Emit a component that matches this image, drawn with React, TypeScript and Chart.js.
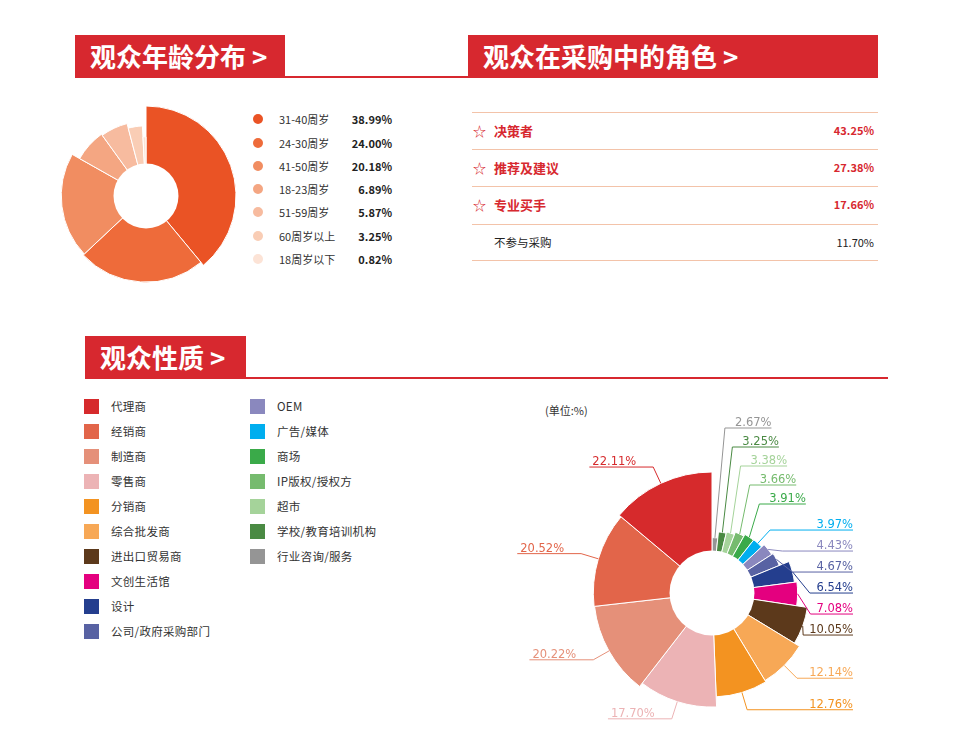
import React, { useEffect, useRef } from "react";
import { Chart, registerables, RadialLinearScale } from "chart.js";

// ---------- data ----------
const ageLabels = ["31-40周岁", "24-30周岁", "41-50周岁", "18-23周岁", "51-59周岁", "60周岁以上", "18周岁以下"];
const ageValues = [38.99, 24.0, 20.18, 6.89, 5.87, 3.25, 0.82];
const ageColors = ["#EA5325", "#EE6B3A", "#F18D61", "#F4A682", "#F7BB9F", "#F9CDB5", "#FCE3D6"];

const roleLabels = ["决策者", "推荐及建议", "专业买手", "不参与采购"];
const roleValues = [43.25, 27.38, 17.66, 11.7];
const roleHighlight = [true, true, true, false];

const typeLabels = [
  "代理商", "经销商", "制造商", "零售商", "分销商", "综合批发商", "进出口贸易商", "文创生活馆", "设计",
  "公司/政府采购部门", "OEM", "广告/媒体", "商场", "IP版权/授权方", "超市", "学校/教育培训机构", "行业咨询/服务",
];
const typeValues = [22.11, 20.52, 20.22, 17.7, 12.76, 12.14, 10.05, 7.08, 6.54, 4.67, 4.43, 3.97, 3.91, 3.66, 3.38, 3.25, 2.67];
const typeColors = [
  "#D62A2C", "#E2654A", "#E59079", "#ECB3B5", "#F39321", "#F7A856", "#5C391B", "#E4007F", "#243E8E",
  "#5862A3", "#8A88BE", "#00AEEF", "#3AAA49", "#76BB6E", "#A5D39A", "#4A8A43", "#959595",
];

const RED = "#D7282F";
const CJK = "'Noto Sans CJK SC', 'Noto Sans', sans-serif";

// ---------- radial scale with logarithmic distance ----------
class RadialLogScale extends (RadialLinearScale as any) {
  static id = "radialLog";
  getDistanceFromCenterForValue(value: number) {
    if (value === null || value === undefined || isNaN(value)) return NaN;
    const lo = Math.log(this.min);
    const hi = Math.log(this.max);
    const v = Math.max(value, this.min);
    return (this.drawingArea * (Math.log(v) - lo)) / (hi - lo);
  }
}
Chart.register(...registerables, RadialLogScale as any);

function holePlugin(ratio: number) {
  return {
    id: "hole",
    afterDatasetsDraw(chart: any) {
      const s = chart.scales.r;
      const ctx = chart.ctx;
      ctx.save();
      ctx.fillStyle = "#fff";
      ctx.beginPath();
      ctx.arc(s.xCenter, s.yCenter, s.drawingArea * ratio, 0, Math.PI * 2);
      ctx.fill();
      ctx.restore();
    },
  };
}

const roseLabelPlugin = {
  id: "roseLabels",
  afterDraw(chart: any) {
    const ctx = chart.ctx;
    const s = chart.scales.r;
    const cx = s.xCenter, cy = s.yCenter, R = s.drawingArea;
    const ds = chart.data.datasets[0];
    const meta = chart.getDatasetMeta(0);
    ctx.save();
    ctx.font = "11.5px 'DejaVu Sans', sans-serif";
    ctx.lineWidth = 1;
    const items = meta.data.map((arc: any, i: number) => {
      const p = arc.getProps(["startAngle", "endAngle", "outerRadius"], true);
      const mid = (p.startAngle + p.endAngle) / 2;
      let deg = (((mid + Math.PI / 2) * 180) / Math.PI) % 360;
      if (deg < 0) deg += 360;
      const at = (rad: number) => ({ x: cx + rad * Math.cos(mid), y: cy + rad * Math.sin(mid) });
      const text = ds.data[i].toFixed(2) + "%";
      return {
        deg,
        P: at(p.outerRadius),
        E: at(p.outerRadius + 18),
        text,
        color: ds.backgroundColor[i],
        w: ctx.measureText(text).width,
      };
    });
    const line = (pts: any[], color: string) => {
      ctx.strokeStyle = color;
      ctx.beginPath();
      pts.forEach((q, k) => (k ? ctx.lineTo(q.x, q.y) : ctx.moveTo(q.x, q.y)));
      ctx.stroke();
    };
    const txt = (t: string, x: number, y: number, align: string, color: string) => {
      ctx.fillStyle = color;
      ctx.textAlign = align;
      ctx.textBaseline = "alphabetic";
      ctx.fillText(t, x, y);
    };
    // top cluster: stacked labels
    const top = items.filter((d: any) => d.deg < 35).sort((a: any, b: any) => a.deg - b.deg);
    top.forEach((d: any, i: number) => {
      const y = cy - R - 44 + i * 19;
      const x0 = d.P.x + 10;
      line([d.P, { x: x0, y }, { x: x0 + 10 + d.w, y }], d.color);
      txt(d.text, x0 + 10, y - 2, "left", d.color);
    });
    // right side: right-aligned column
    const right = items.filter((d: any) => d.deg >= 35 && d.deg < 180).sort((a: any, b: any) => a.deg - b.deg);
    const xEnd = cx + R + 20;
    let prev = -Infinity;
    right.forEach((d: any) => {
      const y = Math.max(d.E.y, prev + 21);
      prev = y;
      const ex = Math.min(d.E.x, xEnd - d.w - 6);
      line([d.P, { x: ex, y }, { x: xEnd, y }], d.color);
      txt(d.text, xEnd, y - 2, "right", d.color);
    });
    // left side
    const left = items.filter((d: any) => d.deg >= 180);
    left.forEach((d: any) => {
      const y = d.E.y;
      line([d.P, d.E, { x: d.E.x - d.w - 20, y }], d.color);
      txt(d.text, d.E.x - d.w - 17, y - 2, "left", d.color);
    });
    ctx.restore();
  },
};

function PolarCanvas(props: {
  labels: string[];
  values: number[];
  colors: string[];
  reverse?: boolean;
  left: number;
  top: number;
  width: number;
  height: number;
  padding: { left: number; right: number; top: number; bottom: number };
  minValue: number;
  holeRatio: number;
  withLabels?: boolean;
}) {
  const ref = useRef<HTMLCanvasElement | null>(null);
  useEffect(() => {
    if (!ref.current) return;
    const order = props.values.map((_, i) => i);
    if (props.reverse) order.reverse();
    const vals = order.map((i) => props.values[i]);
    const cols = order.map((i) => props.colors[i]);
    const labs = order.map((i) => props.labels[i]);
    const total = vals.reduce((a, b) => a + b, 0);
    const plugins: any[] = [holePlugin(props.holeRatio)];
    if (props.withLabels) plugins.push(roseLabelPlugin);
    const chart = new Chart(ref.current, {
      type: "polarArea",
      data: {
        labels: labs,
        datasets: [
          {
            data: vals,
            backgroundColor: cols,
            borderColor: "#ffffff",
            borderWidth: 1,
            angle: (c: any) => (vals[c.dataIndex] / total) * 360,
          } as any,
        ],
      },
      options: {
        animation: false,
        responsive: false,
        maintainAspectRatio: false,
        events: [],
        layout: { padding: props.padding },
        plugins: { legend: { display: false }, tooltip: { enabled: false } },
        scales: {
          r: {
            type: "radialLog",
            display: false,
            min: props.minValue,
            max: Math.max(...vals),
            bounds: "data",
            startAngle: 0,
          } as any,
        },
      } as any,
      plugins,
    });
    return () => chart.destroy();
  }, []);
  return (
    <canvas
      ref={ref}
      width={props.width}
      height={props.height}
      style={{ position: "absolute", left: props.left, top: props.top, width: props.width, height: props.height }}
    />
  );
}

function TitleBox(props: { text: string; left: number; top: number; width: number }) {
  return (
    <div
      style={{
        position: "absolute",
        left: props.left,
        top: props.top,
        width: props.width,
        height: 42,
        background: RED,
        color: "#fff",
        fontFamily: CJK,
        fontWeight: 700,
        fontSize: 26,
        lineHeight: "42px",
        paddingLeft: 15,
        boxSizing: "border-box",
        whiteSpace: "nowrap",
      }}
    >
      {props.text}
    </div>
  );
}

export default function App() {
  const roleTop = 111.7;
  const roleH = 37.3;
  return (
    <div
      style={{
        position: "absolute",
        left: 0,
        top: 0,
        width: 956,
        height: 741,
        background: "#fff",
        overflow: "hidden",
        fontFamily: CJK,
      }}
    >
      {/* header lines */}
      <div style={{ position: "absolute", left: 75, top: 76, width: 803, height: 1.5, background: RED }} />
      <TitleBox text="观众年龄分布 >" left={75} top={35} width={210} />
      <TitleBox text="观众在采购中的角色 >" left={468} top={35} width={410} />
      <div style={{ position: "absolute", left: 85, top: 377, width: 803, height: 1.5, background: RED }} />
      <TitleBox text="观众性质 >" left={85} top={336} width={161} />

      {/* age chart */}
      <PolarCanvas
        labels={ageLabels}
        values={ageValues}
        colors={ageColors}
        left={56}
        top={106}
        width={180}
        height={180}
        padding={{ left: 0, right: 0, top: 0, bottom: 0 }}
        minValue={0.0005}
        holeRatio={0.361}
      />
      {ageLabels.map((l, i) => {
        const cy = 119.3 + i * 23.25;
        return (
          <React.Fragment key={l}>
            <div
              style={{
                position: "absolute",
                left: 252.5,
                top: cy - 5,
                width: 10,
                height: 10,
                borderRadius: "50%",
                background: ageColors[i],
              }}
            />
            <div
              style={{
                position: "absolute",
                left: 279,
                top: cy - 9,
                height: 18,
                lineHeight: "18px",
                fontSize: 11,
                color: "#333",
                whiteSpace: "nowrap",
              }}
            >
              {l}
            </div>
            <div
              style={{
                position: "absolute",
                left: 292,
                width: 100,
                top: cy - 9,
                height: 18,
                lineHeight: "18px",
                fontSize: 11,
                fontWeight: 700,
                color: "#222",
                textAlign: "right",
              }}
            >
              {ageValues[i].toFixed(2)}%
            </div>
          </React.Fragment>
        );
      })}

      {/* role table */}
      {roleLabels.map((l, i) => {
        const hl = roleHighlight[i];
        const top = roleTop + i * roleH;
        return (
          <div
            key={l}
            style={{
              position: "absolute",
              left: 472,
              top,
              width: 406,
              height: roleH,
              borderTop: "1px solid #F3C3A9",
              borderBottom: i === roleLabels.length - 1 ? "1px solid #F3C3A9" : "none",
              boxSizing: "border-box",
            }}
          >
            {hl && (
              <div
                style={{
                  position: "absolute",
                  left: 1,
                  top: 0,
                  height: roleH - 2,
                  lineHeight: `${roleH - 2}px`,
                  fontSize: 13,
                  color: RED,
                }}
              >
                ☆
              </div>
            )}
            <div
              style={{
                position: "absolute",
                left: 22,
                top: 0,
                height: roleH - 2,
                lineHeight: `${roleH - 2}px`,
                fontSize: hl ? 13 : 11.5,
                fontWeight: hl ? 700 : 400,
                color: hl ? RED : "#222",
                whiteSpace: "nowrap",
              }}
            >
              {l}
            </div>
            <div
              style={{
                position: "absolute",
                right: 4,
                top: 0,
                height: roleH - 2,
                lineHeight: `${roleH - 2}px`,
                fontSize: 11,
                fontWeight: hl ? 700 : 400,
                color: hl ? RED : "#222",
              }}
            >
              {roleValues[i].toFixed(2)}%
            </div>
          </div>
        );
      })}

      {/* type legend */}
      {typeLabels.map((l, i) => {
        const col = i < 10 ? 0 : 1;
        const row = i < 10 ? i : i - 10;
        const cy = 406 + row * 25;
        const sx = col === 0 ? 84 : 250;
        return (
          <React.Fragment key={l}>
            <div
              style={{
                position: "absolute",
                left: sx,
                top: cy - 7.5,
                width: 15,
                height: 15,
                background: typeColors[i],
              }}
            />
            <div
              style={{
                position: "absolute",
                left: sx + 27,
                top: cy - 9,
                height: 18,
                lineHeight: "18px",
                fontSize: 11.5,
                letterSpacing: 0.3,
                color: "#333",
                whiteSpace: "nowrap",
              }}
            >
              {l}
            </div>
          </React.Fragment>
        );
      })}
      <div
        style={{
          position: "absolute",
          left: 545,
          top: 401,
          height: 18,
          lineHeight: "18px",
          fontSize: 11,
          color: "#333",
          whiteSpace: "nowrap",
        }}
      >
        (单位:%)
      </div>

      {/* type rose chart */}
      <PolarCanvas
        labels={typeLabels}
        values={typeValues}
        colors={typeColors}
        reverse
        left={500}
        top={395}
        width={400}
        height={346}
        padding={{ left: 91, right: 67, top: 77, bottom: 27 }}
        minValue={0.45}
        holeRatio={0.351}
        withLabels
      />
    </div>
  );
}
